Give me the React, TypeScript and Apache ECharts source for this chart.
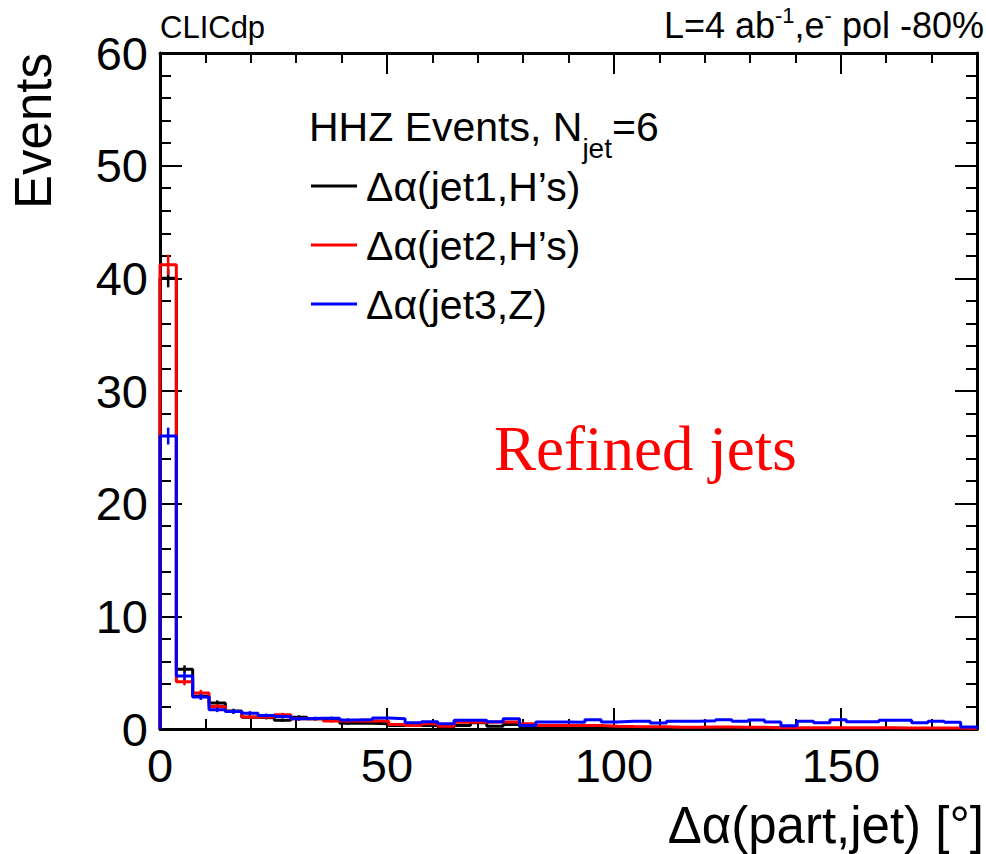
import React, { useEffect, useRef } from "react";
import * as echarts from "echarts";

// ---- Data ----
const binEdges = [0, 3.6, 7.2, 10.8, 14.4, 18, 21.6, 25.2, 28.8, 32.4, 36, 39.6, 43.2, 46.8, 50.4, 54, 57.6, 61.2, 64.8, 68.4, 72, 75.6, 79.2, 82.8, 86.4, 90, 93.6, 97.2, 100.8, 104.4, 108, 111.6, 115.2, 118.8, 122.4, 126, 129.6, 133.2, 136.8, 140.4, 144, 147.6, 151.2, 154.8, 158.4, 162, 165.6, 169.2, 172.8, 176.4, 180];

const jet1Values = [40.0, 5.3, 2.9, 2.3, 1.6, 1.05, 1.0, 0.77, 1.05, 0.9, 0.8, 0.5, 0.5, 0.47, 0.3, 0.3, 0.3, 0.18, 0.3, 0.55, 0.24, 0.4, 0.2, 0.2, 0.2, 0.15, 0.15, 0.12, 0.12, 0.1, 0.1, 0.1, 0.1, 0.08, 0.08, 0.08, 0.1, 0.08, 0.05, 0.05, 0.05, 0.05, 0.05, 0.05, 0.05, 0.03, 0.03, 0.03, 0.03, 0.03];
const jet2Values = [41.2, 4.2, 3.2, 2.0, 1.55, 1.07, 1.07, 1.27, 0.9, 0.9, 0.7, 0.72, 0.74, 0.68, 0.4, 0.3, 0.47, 0.24, 0.6, 0.6, 0.62, 0.62, 0.47, 0.3, 0.3, 0.3, 0.3, 0.25, 0.22, 0.2, 0.2, 0.15, 0.15, 0.18, 0.18, 0.15, 0.15, 0.12, 0.12, 0.1, 0.1, 0.1, 0.1, 0.1, 0.1, 0.08, 0.08, 0.08, 0.08, 0.05];
const jet3Values = [26.0, 4.7, 2.85, 1.7, 1.55, 1.4, 1.2, 1.1, 0.9, 0.95, 0.95, 0.8, 0.85, 0.98, 0.92, 0.55, 0.65, 0.47, 0.77, 0.77, 0.65, 0.9, 0.32, 0.62, 0.62, 0.6, 0.83, 0.62, 0.68, 0.68, 0.53, 0.68, 0.68, 0.74, 0.83, 0.68, 0.8, 0.62, 0.28, 0.68, 0.55, 0.83, 0.65, 0.65, 0.77, 0.77, 0.55, 0.68, 0.6, 0.18];

// statistical errors for the first bins (where they are visible)
const jet1Errors = [0.8, 0.35, 0.27, 0.24, 0.2, 0.16, 0.15, 0.13, 0.16, 0.15, 0.14, 0.12];
const jet2Errors = [0.9, 0.32, 0.28, 0.22, 0.2, 0.16, 0.16, 0.17, 0.15, 0.15, 0.13, 0.13];
const jet3Errors = [0.75, 0.33, 0.26, 0.2, 0.2, 0.18, 0.17, 0.16, 0.15, 0.15, 0.15, 0.14];

const seriesNames = ["Δα(jet1,H’s)", "Δα(jet2,H’s)", "Δα(jet3,Z)"];
const seriesColors = ["#000000", "#ff0000", "#0000ff"];

const xMajorTicks = [0, 50, 100, 150];

const FONT = "'Liberation Sans', Arial, Helvetica, sans-serif";
const SERIF = "'Liberation Serif', 'Times New Roman', serif";

function stepData(values: number[]) {
  const d: number[][] = [[binEdges[0], 0]];
  values.forEach((v, i) => d.push([binEdges[i], v]));
  d.push([binEdges[values.length], values[values.length - 1]]);
  d.push([binEdges[values.length], 0]);
  return d;
}

function errData(values: number[], errs: number[]) {
  return errs.map((e, i) => [(binEdges[i] + binEdges[i + 1]) / 2, values[i], e]);
}

let measureCtx: CanvasRenderingContext2D | null = null;
function measure(text: string, size: number, family = FONT) {
  if (!measureCtx) measureCtx = document.createElement("canvas").getContext("2d");
  measureCtx!.font = `${size}px ${family}`;
  return measureCtx!.measureText(text).width;
}

type Run = { t: string; size: number; dy: number };
function textRuns(runs: Run[], x: number, baseline: number, align: "left" | "right", color = "#000", family = FONT) {
  const widths = runs.map((r) => measure(r.t, r.size, family));
  const total = widths.reduce((a, b) => a + b, 0);
  let cur = align === "left" ? x : x - total;
  const els: any[] = [];
  runs.forEach((r, i) => {
    els.push({
      type: "text",
      x: cur,
      y: baseline + r.dy - 0.35 * r.size,
      silent: true,
      style: {
        text: r.t,
        font: `${r.size}px ${family}`,
        fontSize: r.size,
        fontFamily: family,
        fill: color,
        align: "left",
        textAlign: "left",
        verticalAlign: "middle",
        textVerticalAlign: "middle",
      },
    });
    cur += widths[i];
  });
  return els;
}

export default function App() {
  const ref = useRef<HTMLDivElement>(null);
  useEffect(() => {
    if (!ref.current) return;
    const chart = echarts.init(ref.current, null, { renderer: "svg" });

    const values = [jet1Values, jet2Values, jet3Values];
    const errors = [jet1Errors, jet2Errors, jet3Errors];

    const series: any[] = [];
    values.forEach((vals, k) => {
      series.push({
        type: "line",
        name: seriesNames[k],
        step: "end",
        data: stepData(vals),
        symbol: "none",
        xAxisIndex: 0,
        yAxisIndex: 0,
        lineStyle: { color: seriesColors[k], width: 3 },
        z: 3 + k,
      });
      series.push({
        type: "custom",
        xAxisIndex: 0,
        yAxisIndex: 0,
        data: errData(vals, errors[k]),
        encode: { x: 0, y: 1 },
        z: 3 + k,
        renderItem: (params: any, api: any) => {
          const x = api.value(0);
          const v = api.value(1);
          const e = api.value(2);
          const p1 = api.coord([x, v - e]);
          const p2 = api.coord([x, v + e]);
          return {
            type: "line",
            shape: { x1: p1[0], y1: p1[1], x2: p2[0], y2: p2[1] },
            style: { stroke: seriesColors[k], lineWidth: 2.5 },
          };
        },
      });
    });

    const tickStyle = { color: "#000", width: 2 };
    const baseX = {
      type: "value",
      min: 0,
      max: 180,
      splitLine: { show: false },
      axisLabel: { show: false },
    };

    const legendEls: any[] = [];
    legendEls.push(
      ...textRuns(
        [
          { t: "HHZ Events, N", size: 41, dy: 0 },
          { t: "jet", size: 28, dy: 17 },
          { t: "=6", size: 41, dy: 0 },
        ],
        309,
        141,
        "left"
      )
    );
    const legendY = [186, 245, 304];
    seriesNames.forEach((n, k) => {
      legendEls.push({
        type: "line",
        shape: { x1: 311, y1: legendY[k], x2: 357, y2: legendY[k] },
        style: { stroke: seriesColors[k], lineWidth: 3 },
      });
      legendEls.push(...textRuns([{ t: n, size: 41, dy: 0 }], 366, legendY[k] + 15, "left"));
    });

    const option: any = {
      animation: false,
      backgroundColor: "#ffffff",
      grid: { left: 160, right: 9, top: 53, bottom: 125, containLabel: false },
      xAxis: [
        {
          ...baseX,
          position: "bottom",
          interval: 50,
          axisLine: { show: true, onZero: false, lineStyle: { color: "#000", width: 3 } },
          axisTick: { show: true, inside: true, length: 21, lineStyle: tickStyle },
          axisLabel: {
            show: true,
            fontSize: 47,
            fontFamily: FONT,
            color: "#000",
            margin: 13,
            showMaxLabel: false,
            formatter: (v: number) => (xMajorTicks.indexOf(v) >= 0 ? String(v) : ""),
          },
        },
        {
          ...baseX,
          position: "bottom",
          interval: 10,
          axisLine: { show: false, onZero: false },
          axisTick: { show: true, inside: true, length: 10, lineStyle: tickStyle },
        },
        {
          ...baseX,
          position: "top",
          interval: 50,
          axisLine: { show: true, onZero: false, lineStyle: { color: "#000", width: 3 } },
          axisTick: { show: true, inside: true, length: 21, lineStyle: tickStyle },
        },
        {
          ...baseX,
          position: "top",
          interval: 10,
          axisLine: { show: false, onZero: false },
          axisTick: { show: true, inside: true, length: 10, lineStyle: tickStyle },
        },
      ],
      yAxis: [
        {
          type: "value",
          position: "left",
          min: 0,
          max: 60,
          interval: 10,
          splitLine: { show: false },
          axisLine: { show: true, onZero: false, lineStyle: { color: "#000", width: 3 } },
          axisTick: { show: true, inside: true, length: 22, lineStyle: tickStyle },
          minorTick: { show: true, splitNumber: 5, length: 11, lineStyle: tickStyle },
          minorSplitLine: { show: false },
          axisLabel: { show: true, fontSize: 47, fontFamily: FONT, color: "#000", margin: 12 },
        },
        {
          type: "value",
          position: "right",
          min: 0,
          max: 60,
          interval: 10,
          splitLine: { show: false },
          axisLine: { show: true, onZero: false, lineStyle: { color: "#000", width: 3 } },
          axisTick: { show: true, inside: true, length: 22, lineStyle: tickStyle },
          minorTick: { show: true, splitNumber: 5, length: 11, lineStyle: tickStyle },
          minorSplitLine: { show: false },
          axisLabel: { show: false },
        },
      ],
      series,
      graphic: [
        ...textRuns([{ t: "CLICdp", size: 31, dy: 0 }], 160, 38, "left"),
        ...textRuns(
          [
            { t: "L=4 ab", size: 36, dy: 0 },
            { t: "-1", size: 22, dy: -15 },
            { t: ",e", size: 36, dy: 0 },
            { t: "-", size: 22, dy: -15 },
            { t: " pol -80%", size: 36, dy: 0 },
          ],
          984,
          38,
          "right"
        ),
        {
          type: "text",
          x: 33,
          y: 53,
          rotation: Math.PI / 2,
          silent: true,
          style: {
            text: "Events",
            font: `51px ${FONT}`,
            fontSize: 51,
            fontFamily: FONT,
            fill: "#000",
            align: "right",
            textAlign: "right",
            verticalAlign: "middle",
            textVerticalAlign: "middle",
          },
        },
        ...textRuns([{ t: "Δα(part,jet) [°]", size: 51, dy: 0 }], 984, 843, "right"),
        ...legendEls,
        ...textRuns([{ t: "Refined jets", size: 63, dy: 0 }], 494, 471, "left", "#ff0000", SERIF),
      ],
    };

    chart.setOption(option);
    return () => chart.dispose();
  }, []);

  return (
    <div
      ref={ref}
      style={{ position: "fixed", left: 0, top: 0, width: 986, height: 854, background: "#fff" }}
    />
  );
}
